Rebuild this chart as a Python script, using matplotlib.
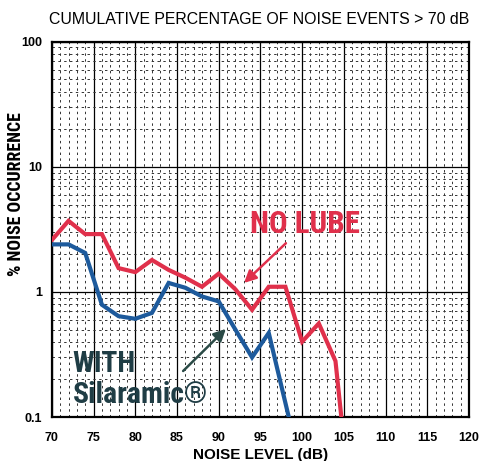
import matplotlib.pyplot as plt
from matplotlib import font_manager
from matplotlib.ticker import MultipleLocator, LogLocator, NullFormatter

noise_level = [70, 72, 74, 76, 78, 80, 82, 84, 86, 88, 90, 92, 94, 96, 98, 100, 102, 104, 104.7]
no_lube = [2.6, 3.7, 2.9, 2.9, 1.55, 1.44, 1.8, 1.5, 1.3, 1.1, 1.4, 1.05, 0.72, 1.1, 1.1, 0.40, 0.56, 0.28, 0.1]

with_x = [70, 72, 74, 76, 78, 80, 82, 84, 86, 88, 90, 92, 94, 96, 98.4]
with_silaramic = [2.4, 2.4, 2.05, 0.79, 0.64, 0.61, 0.68, 1.18, 1.08, 0.92, 0.84, 0.50, 0.30, 0.47, 0.1]

x_ticks = [70, 75, 80, 85, 90, 95, 100, 105, 110, 115, 120]
y_ticks = [0.1, 1, 10, 100]
y_labels = ['0.1', '1', '10', '100']

RED = '#e0304b'
BLUE = '#1d5a9c'
DARK = '#1f3d45'

plt.rcParams['font.family'] = ['Liberation Sans', 'DejaVu Sans']

# heavy condensed face for the callouts, whichever one is installed
installed = {f.name for f in font_manager.fontManager.ttflist}
condensed = next((n for n in ['Roboto Condensed', 'Archivo Narrow', 'Barlow Condensed',
                              'Liberation Sans Narrow', 'Arial Narrow', 'PT Sans Narrow',
                              'Open Sans Condensed', 'Encode Sans Condensed', 'Fira Sans Condensed']
                  if n in installed), 'Liberation Sans')
COND = [condensed, 'DejaVu Sans']

fig = plt.figure(figsize=(4.8, 4.61), dpi=100)
ax = fig.add_axes([0.108, 0.0954, 0.869, 0.814])

ax.plot(noise_level, no_lube, color=RED, lw=3, solid_joinstyle='miter', zorder=3)
ax.plot(with_x, with_silaramic, color=BLUE, lw=3, solid_joinstyle='miter', zorder=3)

ax.set_yscale('log')
ax.set_xlim(70, 120)
ax.set_ylim(0.1, 100)
ax.set_xticks(x_ticks)
ax.set_yticks(y_ticks)
ax.set_yticklabels(y_labels)
ax.xaxis.set_minor_locator(MultipleLocator(1))
ax.yaxis.set_minor_locator(LogLocator(base=10, subs=range(2, 10)))
ax.yaxis.set_minor_formatter(NullFormatter())

ax.grid(which='major', color='black', lw=0.9, ls='-', zorder=1)
ax.grid(which='minor', color='#333333', lw=0.7, ls=(0, (2.5, 3.5)), zorder=1)
ax.tick_params(which='both', direction='in', length=0, labelsize=9)
ax.tick_params(axis='x', pad=11)
ax.tick_params(axis='y', pad=7)
for lbl in ax.get_xticklabels() + ax.get_yticklabels():
    lbl.set_fontweight('bold')
for sp in ax.spines.values():
    sp.set_linewidth(1.6)

ax.set_xlabel('NOISE LEVEL (dB)', fontsize=11, fontweight='bold', labelpad=3)
ylab = ax.set_ylabel('% NOISE OCCURRENCE', fontsize=14, fontweight='heavy', family=COND)
ax.yaxis.set_label_coords(-0.065, 0.593)
fig.text(0.54, 0.957, 'CUMULATIVE PERCENTAGE OF NOISE EVENTS > 70 dB',
         ha='center', va='center', fontsize=11.4)

t_nolube = ax.text(93.7, 2.96, 'NO LUBE', color=RED, fontsize=22, fontweight='bold',
                   family=COND, ha='left', va='baseline', zorder=4)
t_with = ax.text(72.5, 0.230, 'WITH', color=DARK, fontsize=22, fontweight='bold',
                 family=COND, ha='left', va='baseline', zorder=4)
t_sil = ax.text(72.5, 0.129, 'Silaramic\u00ae', color=DARK, fontsize=22, fontweight='bold',
                family=COND, ha='left', va='baseline', zorder=4)

# size each callout so its length matches the original lettering
renderer = fig.canvas.get_renderer()
for t, length in [(t_nolube, 110), (t_with, 63), (t_sil, 135), (ylab, 165)]:
    bb = t.get_window_extent(renderer)
    cur = bb.height if t is ylab else bb.width
    t.set_fontsize(t.get_fontsize() * length / cur)

ax.annotate('', xy=(92.8, 1.14), xytext=(98.3, 2.54),
            arrowprops=dict(arrowstyle='-|>', color=RED, lw=1.8, mutation_scale=18), zorder=4)
ax.annotate('', xy=(91.1, 0.525), xytext=(85.5, 0.225),
            arrowprops=dict(arrowstyle='-|>', color='#2a4a46', lw=1.8, mutation_scale=18), zorder=4)

fig.savefig('out.png', dpi=100)
